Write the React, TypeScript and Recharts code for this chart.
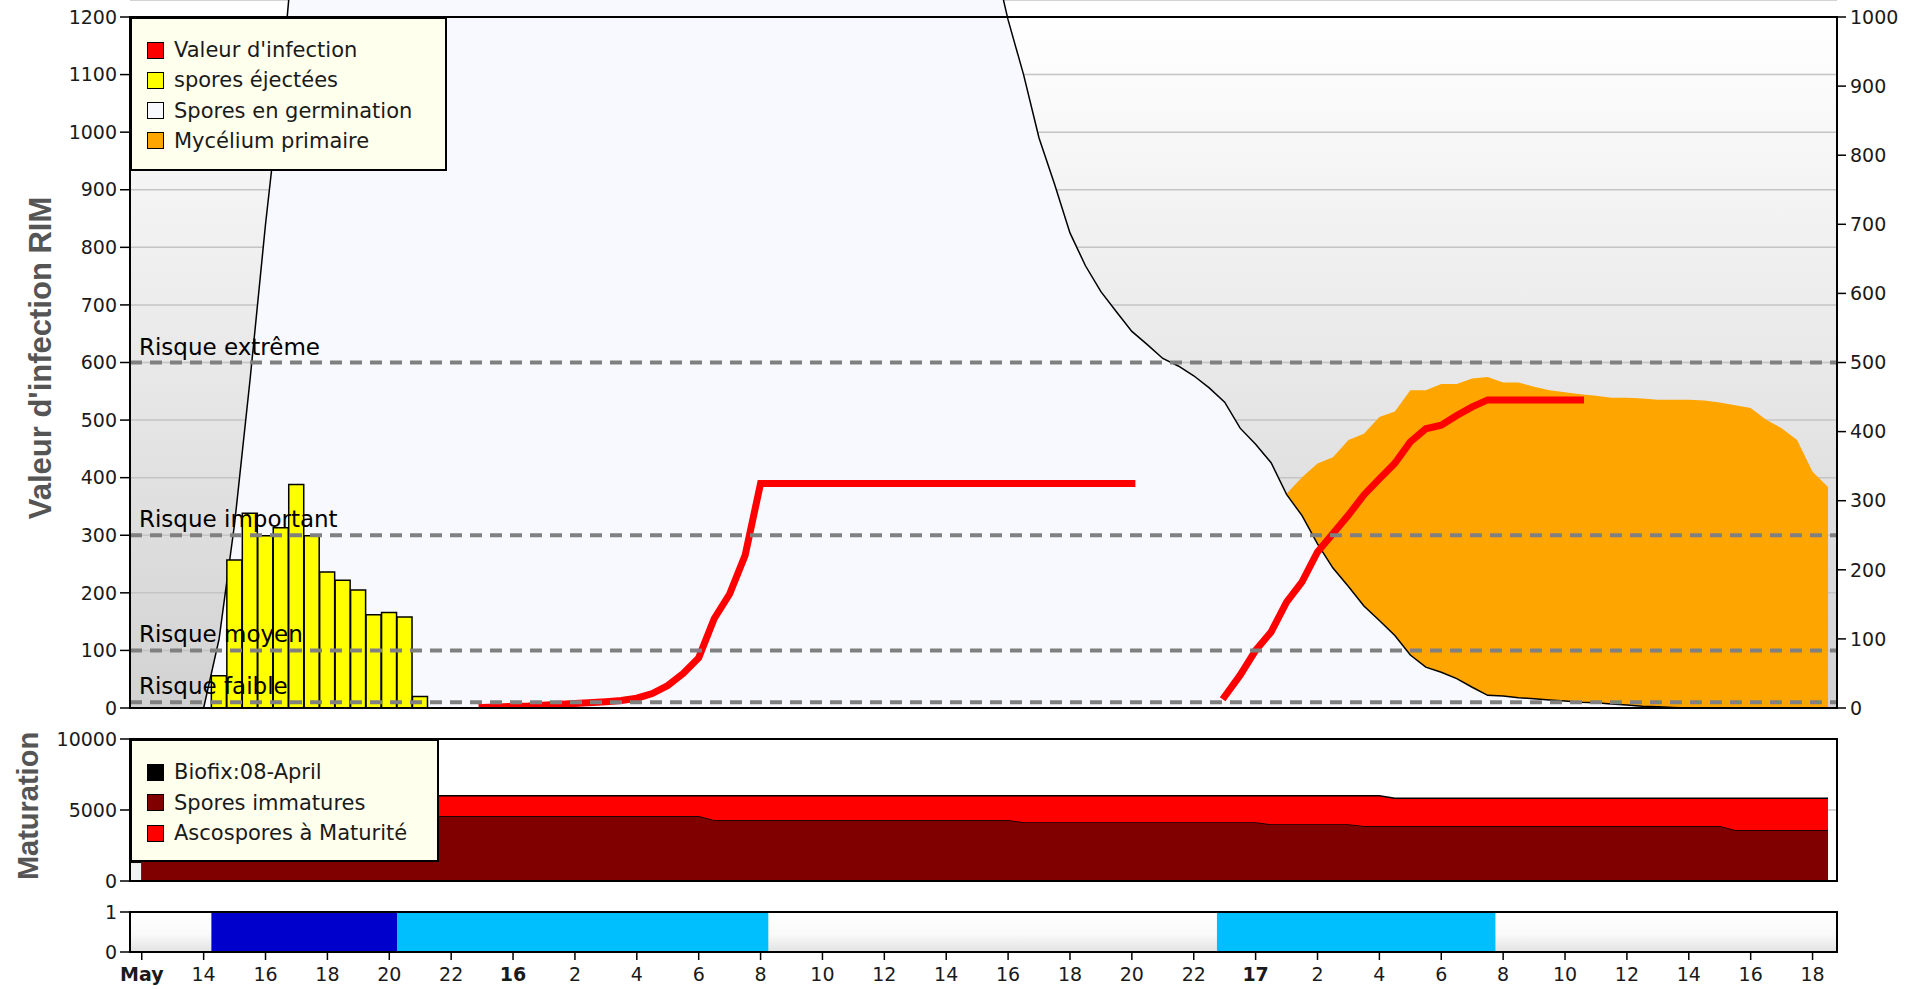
import React from "react";
import {
  ComposedChart,
  Area,
  Bar,
  Line,
  XAxis,
  YAxis,
  CartesianGrid,
  ReferenceLine,
  ReferenceArea,
} from "recharts";

// x values are hours counted from 15 May 12:00
const X_MIN = -0.38;
const X_MAX = 54.79;

const tickHours = [0, 2, 4, 6, 8, 10, 12, 14, 16, 18, 20, 22, 24, 26, 28, 30, 32, 34, 36, 38, 40, 42, 44, 46, 48, 50, 52, 54];
const tickLabels = ["May", "14", "16", "18", "20", "22", "16", "2", "4", "6", "8", "10", "12", "14", "16", "18", "20", "22", "17", "2", "4", "6", "8", "10", "12", "14", "16", "18"];

const leftTicks = [0, 100, 200, 300, 400, 500, 600, 700, 800, 900, 1000, 1100, 1200];
const rightTicks = [0, 100, 200, 300, 400, 500, 600, 700, 800, 900, 1000];

const riskLevels = [600, 300, 100, 10];
const riskNames = ["Risque extrême", "Risque important", "Risque moyen", "Risque faible"];

// spores éjectées
const sporeHours = [2.5, 3, 3.5, 4, 4.5, 5, 5.5, 6, 6.5, 7, 7.5, 8, 8.5, 9];
const sporeValues = [56, 257, 338, 299, 313, 388, 299, 236, 222, 205, 162, 166, 158, 20];

// spores en germination (runs off the top of the chart in the middle)
const germHours = [2, 2.5, 3, 3.5, 4, 4.5, 5, 6, 8, 12, 16, 20, 24, 26, 27, 27.5, 28, 28.5, 29, 29.5, 30, 30.5, 31, 31.5, 32, 32.5, 33, 33.5, 34, 34.5, 35, 35.5, 36, 36.5, 37, 37.5, 38, 38.5, 39, 39.5, 40, 40.5, 41, 41.5, 42, 42.5, 43, 43.5, 44, 44.5, 45, 45.5, 46, 46.5, 47, 47.5, 48, 48.5, 49, 49.5, 50];
const germValues = [0, 120, 320, 570, 840, 1080, 1380, 1900, 2500, 2900, 2800, 2400, 1900, 1600, 1420, 1310, 1195, 1100, 990, 910, 825, 768, 723, 688, 654, 631, 607, 594, 577, 556, 531, 486, 458, 426, 371, 334, 285, 243, 211, 177, 152, 126, 92, 71, 62, 51, 36, 22, 21, 18, 16, 14, 12, 10, 9, 7, 5, 3, 2, 1, 0];

// valeur d'infection, two episodes
const infectionHoursA = [11, 12.5, 14, 15, 15.5, 16, 16.5, 17, 17.5, 18, 18.5, 19, 19.5, 20, 32];
const infectionValuesA = [1, 3.5, 8, 11, 13, 17, 25, 39, 60, 87, 155, 198, 265, 390, 390];
const infectionHoursB = [35, 35.5, 36, 36.5, 37, 37.5, 38, 38.5, 39, 39.5, 40, 40.5, 41, 41.5, 42, 42.5, 43, 43.5, 46.5];
const infectionValuesB = [20, 57, 100, 132, 184, 219, 271, 303, 335, 370, 398, 425, 462, 485, 491, 508, 523, 535, 535];

// mycélium primaire (right axis)
const myceliumHours = [36.5, 37, 37.5, 38, 38.5, 39, 39.5, 40, 40.5, 41, 41.5, 42, 42.5, 43, 43.5, 44, 44.5, 45, 45.5, 46, 46.5, 47, 47.5, 48, 48.5, 49, 49.5, 50, 50.5, 51, 51.5, 52, 52.5, 53, 53.5, 54, 54.5];
const myceliumValues = [260, 310, 334, 354, 363, 388, 397, 421, 429, 460, 460, 469, 469, 477, 479, 471, 471, 465, 460, 457, 454, 452, 449, 449, 448, 446, 446, 446, 445, 442, 438, 434, 417, 405, 388, 342, 320];

// maturation
const maturationHours = [0, 18, 18.5, 28, 28.5, 36, 36.5, 39, 39.5, 40, 40.5, 51, 51.5, 54.5];
const immatureSpores = [4580, 4580, 4300, 4300, 4140, 4140, 4000, 4000, 3870, 3870, 3870, 3870, 3600, 3600];
const matureSpores = [1420, 1420, 1700, 1700, 1860, 1860, 2000, 2000, 2130, 2130, 1960, 1960, 2230, 2230];
// small biofix block before the first maturation point: [from hour, to hour, height]
const biofixBlock = [X_MIN, 0, 1300];

// leaf wetness strip
const rainPeriods = [[2.25, 8.25]];
const wetPeriods = [[8.25, 20.25], [34.75, 43.75]];

const legendMain = [
  { name: "Valeur d'infection", color: "#ff0000" },
  { name: "spores éjectées", color: "#ffff00" },
  { name: "Spores en germination", color: "#f8f8ff" },
  { name: "Mycélium primaire", color: "#ffa500" },
];
const legendMaturation = [
  { name: "Biofix:08-April", color: "#000000" },
  { name: "Spores immatures", color: "#800000" },
  { name: "Ascospores à Maturité", color: "#ff0000" },
];

const FONT = '"DejaVu Sans", Verdana, sans-serif';
const TITLE_FONT = '"Liberation Sans", Arial, sans-serif';
const W = 1911;
const LEFT_W = 130;
const RIGHT_W = 74;
const MAIN_PLOT_H = 708;
const MAIN_TOP_GAP = 17;
const LEFT_MAX = (1200 * MAIN_PLOT_H) / (MAIN_PLOT_H - MAIN_TOP_GAP);
const RIGHT_MAX = LEFT_MAX / 1.2;

type Row = {
  h: number;
  spores?: number;
  germination?: number;
  infectionA?: number;
  infectionB?: number;
  mycelium?: number;
};

const rowsByHour = new Map<number, Row>();
function put(hours: number[], values: number[], key: keyof Row) {
  hours.forEach((h, i) => {
    const row = rowsByHour.get(h) ?? { h };
    (row as any)[key] = values[i];
    rowsByHour.set(h, row);
  });
}
put(sporeHours, sporeValues, "spores");
put(germHours, germValues, "germination");
put(infectionHoursA, infectionValuesA, "infectionA");
put(infectionHoursB, infectionValuesB, "infectionB");
put(myceliumHours, myceliumValues, "mycelium");
const mainData = [...rowsByHour.values()].sort((a, b) => a.h - b.h);

const maturationData = maturationHours.map((h, i) => ({
  h,
  immature: immatureSpores[i],
  mature: matureSpores[i],
}));

const stripData = tickHours.map((h) => ({ h }));

const tickStyle = { fontSize: 19, fill: "#1a1a1a", fontFamily: FONT };
const tickLineStyle = { stroke: "#000", strokeWidth: 1.5 };

const riskLabel = (text: string) => (props: any) => {
  const vb = props.viewBox ?? { x: 0, y: 0 };
  return (
    <text x={vb.x + 9} y={vb.y - 8} fontSize={23} fontFamily={FONT} fill="#000">
      {text}
    </text>
  );
};

function HourTick(props: any) {
  const { x, y, payload } = props;
  const h = payload.value;
  const label = tickLabels[tickHours.indexOf(h)];
  const bold = h === 0 || h % 24 === 12;
  return (
    <text
      x={x}
      y={y}
      dy="0.71em"
      textAnchor="middle"
      fontSize={19}
      fontFamily={FONT}
      fontWeight={bold ? "bold" : "normal"}
      fill="#1a1a1a"
    >
      {label}
    </text>
  );
}

function LegendBox({
  items,
  left,
  top,
  width,
  height,
  rowTop,
  rowStep,
}: {
  items: { name: string; color: string }[];
  left: number;
  top: number;
  width: number;
  height: number;
  rowTop: number;
  rowStep: number;
}) {
  return (
    <div
      style={{
        position: "absolute",
        left,
        top,
        width,
        height,
        boxSizing: "border-box",
        border: "2px solid #000",
        background: "#ffffee",
        fontFamily: FONT,
        fontSize: 21,
        color: "#1a1a1a",
      }}
    >
      {items.map((it, i) => (
        <div
          key={it.name}
          style={{
            position: "absolute",
            left: 15,
            top: rowTop + i * rowStep - 15,
            height: 30,
            display: "flex",
            alignItems: "center",
            whiteSpace: "nowrap",
          }}
        >
          <span
            style={{
              display: "inline-block",
              width: 17,
              height: 17,
              boxSizing: "border-box",
              border: "1.5px solid #000",
              background: it.color,
              marginRight: 10,
            }}
          />
          {it.name}
        </div>
      ))}
    </div>
  );
}

function AxisTitle({ text, cx, cy, size }: { text: string; cx: number; cy: number; size: number }) {
  return (
    <div
      style={{
        position: "absolute",
        left: cx,
        top: cy,
        transform: "translate(-50%, -50%) rotate(-90deg)",
        whiteSpace: "nowrap",
        fontFamily: TITLE_FONT,
        fontWeight: "bold",
        fontSize: size,
        color: "#555",
        lineHeight: 1,
      }}
    >
      {text}
    </div>
  );
}

export default function App() {
  return (
    <div
      style={{
        position: "absolute",
        left: 0,
        top: 0,
        width: W,
        height: 989,
        overflow: "hidden",
        background: "#fff",
      }}
    >
      <div style={{ position: "absolute", left: 0, top: 0 }}>
        <ComposedChart
          width={W}
          height={722}
          data={mainData}
          margin={{ top: 0, right: 0, bottom: 14, left: 0 }}
          barCategoryGap={0}
        >
          <defs>
            <linearGradient id="mainBg" x1="0" y1="0" x2="0" y2="1">
              <stop offset="0%" stopColor="#ffffff" />
              <stop offset="100%" stopColor="#d2d2d2" />
            </linearGradient>
          </defs>
          <XAxis dataKey="h" type="number" domain={[X_MIN, X_MAX]} allowDataOverflow hide />
          <YAxis
            width={LEFT_W}
            domain={[0, LEFT_MAX]}
            allowDataOverflow
            ticks={leftTicks}
            interval={0}
            axisLine={false}
            tickLine={tickLineStyle}
            tickSize={10}
            tickMargin={3}
            tick={tickStyle}
          />
          <YAxis
            yAxisId="right"
            orientation="right"
            width={RIGHT_W}
            domain={[0, RIGHT_MAX]}
            allowDataOverflow
            ticks={rightTicks}
            interval={0}
            axisLine={false}
            tickLine={tickLineStyle}
            tickSize={9}
            tickMargin={4}
            tick={tickStyle}
          />
          <ReferenceArea
            x1={X_MIN}
            x2={X_MAX}
            y1={0}
            y2={1200}
            fill="url(#mainBg)"
            fillOpacity={1}
            stroke="none"
            zIndex={-150}
          />
          <CartesianGrid vertical={false} stroke="#c4c4c4" strokeWidth={1.5} />
          <Area
            yAxisId="right"
            dataKey="mycelium"
            type="linear"
            fill="#ffa500"
            fillOpacity={1}
            stroke="none"
            connectNulls
            isAnimationActive={false}
            zIndex={100}
          />
          <Area
            dataKey="germination"
            type="linear"
            fill="#f8f8ff"
            fillOpacity={1}
            stroke="#000"
            strokeWidth={1.5}
            connectNulls
            isAnimationActive={false}
            zIndex={110}
          />
          <Bar
            dataKey="spores"
            fill="#ffff00"
            stroke="#000"
            strokeWidth={1.5}
            isAnimationActive={false}
            zIndex={300}
          />
          <Line
            dataKey="infectionA"
            type="linear"
            stroke="#ff0000"
            strokeWidth={7}
            strokeLinecap="square"
            dot={false}
            activeDot={false}
            connectNulls
            isAnimationActive={false}
            zIndex={400}
          />
          <Line
            dataKey="infectionB"
            type="linear"
            stroke="#ff0000"
            strokeWidth={7}
            strokeLinecap="square"
            dot={false}
            activeDot={false}
            connectNulls
            isAnimationActive={false}
            zIndex={400}
          />
          {riskLevels.map((level, i) => (
            <ReferenceLine
              key={level}
              y={level}
              stroke="#808080"
              strokeWidth={4}
              strokeDasharray="12 8"
              label={riskLabel(riskNames[i])}
              zIndex={450}
            />
          ))}
          <ReferenceArea
            x1={X_MIN}
            x2={X_MAX}
            y1={0}
            y2={1200}
            fill="none"
            stroke="#000"
            strokeWidth={2}
            zIndex={460}
          />
        </ComposedChart>
      </div>

      <div style={{ position: "absolute", left: 0, top: 725 }}>
        <ComposedChart
          width={W}
          height={170}
          data={maturationData}
          margin={{ top: 14, right: RIGHT_W, bottom: 14, left: 0 }}
        >
          <XAxis dataKey="h" type="number" domain={[X_MIN, X_MAX]} allowDataOverflow hide />
          <YAxis
            width={LEFT_W}
            domain={[0, 10000]}
            allowDataOverflow
            ticks={[0, 5000, 10000]}
            interval={0}
            axisLine={false}
            tickLine={tickLineStyle}
            tickSize={10}
            tickMargin={3}
            tick={tickStyle}
          />
          <CartesianGrid vertical={false} stroke="#c8c8c8" strokeWidth={1.5} />
          <ReferenceArea
            x1={biofixBlock[0]}
            x2={biofixBlock[1]}
            y1={0}
            y2={biofixBlock[2]}
            fill="#f2f2f2"
            fillOpacity={1}
            stroke="#000"
            strokeWidth={1}
            zIndex={90}
          />
          <Area
            stackId="m"
            dataKey="immature"
            type="linear"
            fill="#800000"
            fillOpacity={1}
            stroke="#000"
            strokeWidth={1.5}
            isAnimationActive={false}
            zIndex={100}
          />
          <Area
            stackId="m"
            dataKey="mature"
            type="linear"
            fill="#ff0000"
            fillOpacity={1}
            stroke="#000"
            strokeWidth={1.5}
            isAnimationActive={false}
            zIndex={110}
          />
          <ReferenceArea
            x1={X_MIN}
            x2={X_MAX}
            y1={0}
            y2={10000}
            fill="none"
            stroke="#000"
            strokeWidth={2}
            zIndex={460}
          />
        </ComposedChart>
      </div>

      <div style={{ position: "absolute", left: 0, top: 900 }}>
        <ComposedChart
          width={W}
          height={89}
          data={stripData}
          margin={{ top: 12, right: RIGHT_W, bottom: 0, left: 0 }}
        >
          <defs>
            <linearGradient id="stripBg" x1="0" y1="0" x2="0" y2="1">
              <stop offset="0%" stopColor="#ffffff" />
              <stop offset="55%" stopColor="#fafafa" />
              <stop offset="100%" stopColor="#e2e2e2" />
            </linearGradient>
          </defs>
          <XAxis
            dataKey="h"
            type="number"
            domain={[X_MIN, X_MAX]}
            allowDataOverflow
            ticks={tickHours}
            interval={0}
            height={37}
            axisLine={false}
            tickLine={tickLineStyle}
            tickSize={8}
            tickMargin={8}
            tick={(p: any) => <HourTick {...p} />}
          />
          <YAxis
            width={LEFT_W}
            type="number"
            domain={[0, 1]}
            allowDataOverflow
            ticks={[0, 1]}
            interval={0}
            axisLine={false}
            tickLine={tickLineStyle}
            tickSize={10}
            tickMargin={3}
            tick={tickStyle}
          />
          <ReferenceArea
            x1={X_MIN}
            x2={X_MAX}
            y1={0}
            y2={1}
            fill="url(#stripBg)"
            fillOpacity={1}
            stroke="none"
            zIndex={-150}
          />
          {rainPeriods.map(([a, b]) => (
            <ReferenceArea
              key={"r" + a}
              x1={a}
              x2={b}
              y1={0}
              y2={1}
              fill="#0000cc"
              fillOpacity={1}
              stroke="none"
              zIndex={100}
            />
          ))}
          {wetPeriods.map(([a, b]) => (
            <ReferenceArea
              key={"w" + a}
              x1={a}
              x2={b}
              y1={0}
              y2={1}
              fill="#00bfff"
              fillOpacity={1}
              stroke="none"
              zIndex={100}
            />
          ))}
          <ReferenceArea
            x1={X_MIN}
            x2={X_MAX}
            y1={0}
            y2={1}
            fill="none"
            stroke="#000"
            strokeWidth={2}
            zIndex={460}
          />
        </ComposedChart>
      </div>

      <LegendBox items={legendMain} left={130} top={17} width={317} height={154} rowTop={31} rowStep={30.3} />
      <LegendBox items={legendMaturation} left={130} top={739} width={309} height={123} rowTop={31} rowStep={30.6} />

      <AxisTitle text="Valeur d'infection RIM" cx={40} cy={358} size={31} />
      <AxisTitle text="Maturation" cx={28} cy={806} size={29} />
    </div>
  );
}
